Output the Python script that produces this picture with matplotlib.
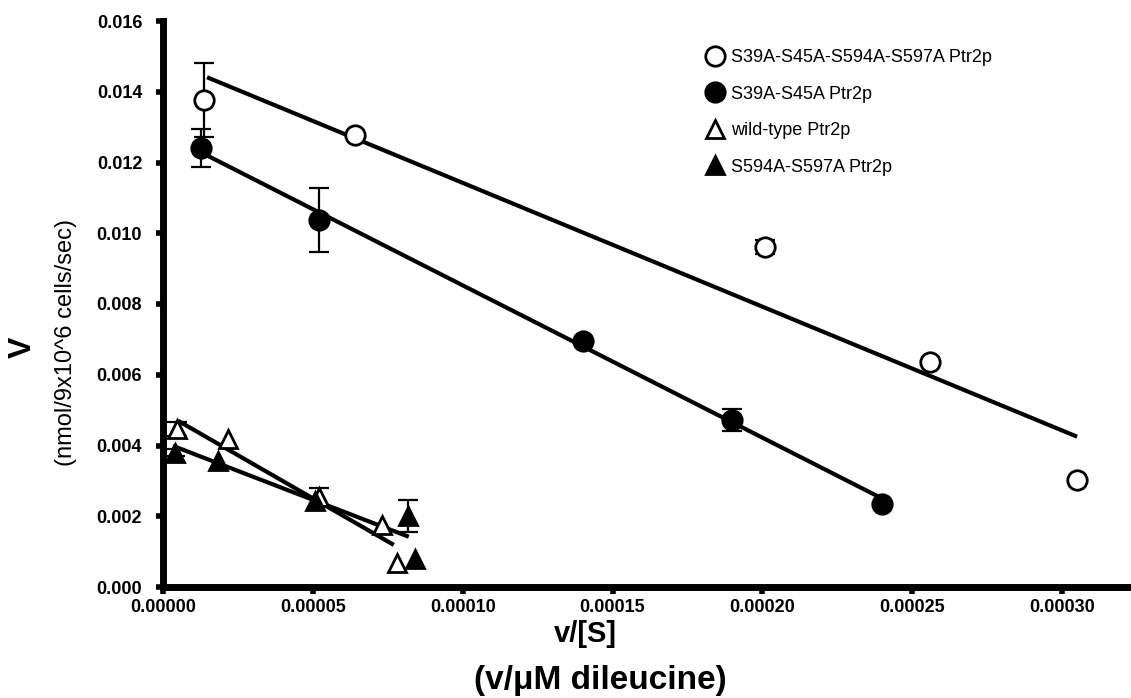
import numpy as np
import matplotlib
matplotlib.use("Agg")
import matplotlib.pyplot as plt

plt.rcParams['font.family'] = ['Liberation Sans', 'DejaVu Sans']

# S39A-S45A-S594A-S597A Ptr2p (open circles)
quad_x = [0.0000137, 0.000064, 0.000201, 0.000256, 0.000305]
quad_y = [0.01377, 0.01278, 0.0096, 0.00637, 0.00303]
quad_err = [0.00105, 0, 0.0002, 0, 0]
quad_fit_x = [0.0000147, 0.000305]
quad_fit_y = [0.01441, 0.00425]

# S39A-S45A Ptr2p (filled circles)
s45_x = [0.0000127, 0.000052, 0.00014, 0.00019, 0.00024]
s45_y = [0.01241, 0.01037, 0.00694, 0.00473, 0.00235]
s45_err = [0.00054, 0.0009, 0, 0.00031, 0]
s45_fit_x = [0.0000133, 0.000240]
s45_fit_y = [0.01226, 0.0025]

# wild-type Ptr2p (open triangles)
wt_x = [0.0000047, 0.0000217, 0.000052, 0.000073, 0.000078]
wt_y = [0.00447, 0.00419, 0.00255, 0.00176, 0.00068]
wt_err = [0.0002, 0, 0.00025, 0, 0]
wt_fit_x = [0.000005, 0.000077]
wt_fit_y = [0.0047, 0.00119]

# S594A-S597A Ptr2p (filled triangles)
s597_x = [0.000004, 0.0000183, 0.0000507, 0.0000817, 0.000084]
s597_y = [0.0038, 0.00357, 0.00244, 0.00201, 0.00079]
s597_err = [0.0001, 0, 0, 0.00045, 0]
s597_fit_x = [0.0000033, 0.000082]
s597_fit_y = [0.00399, 0.00142]

series = [
    ("S39A-S45A-S594A-S597A Ptr2p", quad_x, quad_y, quad_err, quad_fit_x, quad_fit_y, 'o', 'white'),
    ("S39A-S45A Ptr2p", s45_x, s45_y, s45_err, s45_fit_x, s45_fit_y, 'o', 'black'),
    ("wild-type Ptr2p", wt_x, wt_y, wt_err, wt_fit_x, wt_fit_y, '^', 'white'),
    ("S594A-S597A Ptr2p", s597_x, s597_y, s597_err, s597_fit_x, s597_fit_y, '^', 'black'),
]

fig = plt.figure(figsize=(11.31, 6.98), dpi=100)
ax = fig.add_axes([163/1131, (698-587)/698, (1131-163)/1131, (587-21)/698])

for label, x, y, err, fx, fy, mk, fc in series:
    x = np.asarray(x); y = np.asarray(y); err = np.asarray(err)
    ax.plot(fx, fy, color='black', lw=3, zorder=2, solid_capstyle='butt')
    has = err > 0
    ax.errorbar(x[has], y[has], yerr=err[has], fmt='none', ecolor='black',
                elinewidth=1.6, capsize=7.5, capthick=1.6, zorder=3)
    ms = 14 if mk == 'o' else 13
    ax.plot(x, y, linestyle='none', marker=mk, ms=ms, mfc=fc, mec='black',
            mew=2, zorder=4, label=label)

ax.set_xlim(0, 0.000323)
ax.set_ylim(0, 0.016)
ax.set_xticks(np.arange(0, 0.00031, 0.00005))
ax.set_yticks(np.arange(0, 0.0161, 0.002))
ax.xaxis.set_major_formatter(matplotlib.ticker.FormatStrFormatter('%.5f'))
ax.yaxis.set_major_formatter(matplotlib.ticker.FormatStrFormatter('%.3f'))
for s in ['top', 'right']:
    ax.spines[s].set_visible(False)
for s in ['left', 'bottom']:
    ax.spines[s].set_linewidth(5)
ax.tick_params(direction='out', length=5, width=4, labelsize=13)
ax.tick_params(axis='x', pad=4)
ax.tick_params(axis='y', pad=10)
for t in ax.get_xticklabels() + ax.get_yticklabels():
    t.set_fontweight('bold')

ax.legend(loc='upper left', bbox_to_anchor=(695/1131, 1 - 40/698),
          bbox_transform=fig.transFigure, frameon=False, fontsize=13,
          handletextpad=0.3, labelspacing=1.08, borderpad=0, handlelength=1.2)

fig.text(585/1131, 1 - 634/698, "v/[S]", ha='center', va='center',
         fontsize=21, fontweight='bold')
fig.text(600/1131, 1 - 680/698, "(v/\u03bcM dileucine)", ha='center', va='center',
         fontsize=24, fontweight='bold')
fig.text(23/1131, 1 - 347/698, "V", rotation=90, ha='center', va='center',
         fontsize=23, fontweight='bold')
fig.text(66/1131, 1 - 342/698, "(nmol/9x10^6 cells/sec)", rotation=90,
         ha='center', va='center', fontsize=17)

fig.savefig("out.png", dpi=100)
